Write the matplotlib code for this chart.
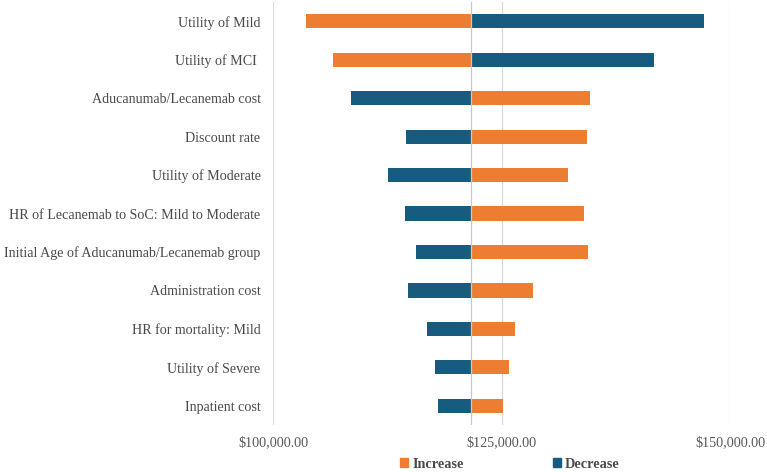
"""Tornado diagram of one-way sensitivity analysis (ICER)."""
import matplotlib
matplotlib.use("Agg")
import matplotlib.pyplot as plt
from matplotlib.patches import Patch
from matplotlib.ticker import FuncFormatter

_ORANGE = "#ED7D31"
_BLUE = "#175C7E"
_GRID = "#D9D9D9"
_TEXT = "#4A4A4A"

params = [
    "Utility of Mild",
    "Utility of MCI ",
    "Aducanumab/Lecanemab cost",
    "Discount rate",
    "Utility of Moderate",
    "HR of Lecanemab to SoC: Mild to Moderate",
    "Initial Age of Aducanumab/Lecanemab group",
    "Administration cost",
    "HR for mortality: Mild",
    "Utility of Severe",
    "Inpatient cost",
]
base_icer = 121650
increase_vals = [103640, 106580, 134690, 134370, 132230, 134050,
                 134480, 128480, 126500, 125860, 125200]
decrease_vals = [147100, 141630, 108570, 114560, 112530, 114450,
                 115630, 114720, 116860, 117670, 117990]
x_ticks = [100000, 125000, 150000]

plt.rcParams["font.family"] = ["Liberation Serif", "DejaVu Serif"]

fig = plt.figure(figsize=(7.67, 4.72), dpi=100)
ax = fig.add_axes([0.356, 0.0996, 0.596, 0.896])

ys = range(len(params))
inc_w = [v - base_icer for v in increase_vals]
dec_w = [v - base_icer for v in decrease_vals]
ax.barh(ys, inc_w, left=base_icer, height=0.37, color=_ORANGE, zorder=3)
ax.barh(ys, dec_w, left=base_icer, height=0.37, color=_BLUE, zorder=3)

ax.set_xlim(100000, 150000)
ax.set_ylim(len(params) - 0.5, -0.5)
ax.set_xticks(x_ticks)
ax.xaxis.set_major_formatter(FuncFormatter(lambda v, _: f"${v:,.2f}"))
ax.set_yticks(list(ys))
ax.set_yticklabels(params)
ax.tick_params(axis="x", length=0, pad=8, labelsize=10.2, labelcolor="#595959")
ax.tick_params(axis="y", length=0, pad=9, labelsize=10.1, labelcolor=_TEXT)
ax.grid(True, axis="x", color=_GRID, linewidth=0.9, zorder=0)
ax.axvline(base_icer, color="#C8C8C8", linewidth=0.9, zorder=4)
for spine in ax.spines.values():
    spine.set_visible(False)

handles = [Patch(color=_ORANGE, label="Increase"),
           Patch(color=_BLUE, label="Decrease")]
fig.legend(handles=handles, loc="center", bbox_to_anchor=(510 / 767, 1 - 464 / 472),
           ncol=2, frameon=False, handlelength=0.55, handleheight=0.55,
           handletextpad=0.3, columnspacing=6.2,
           prop={"size": 10.3, "weight": "bold"}, labelcolor=_TEXT)

fig.savefig("out.png", dpi=100)
